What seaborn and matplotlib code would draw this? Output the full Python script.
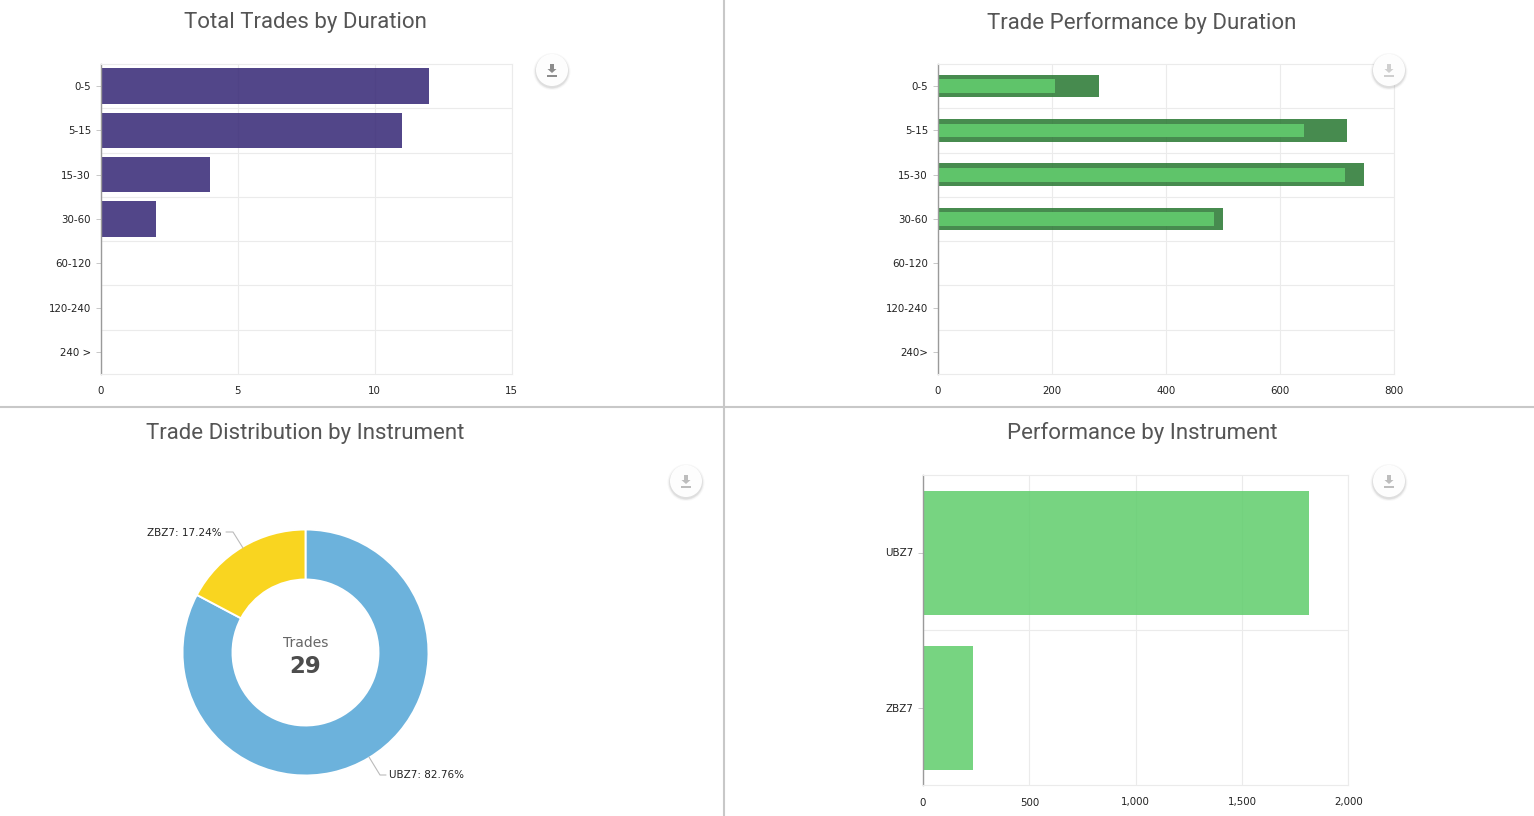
import pandas as pd
import matplotlib.pyplot as plt
from matplotlib.patches import Circle, Polygon, Rectangle
import seaborn as sns

# Data
durations = ['0-5', '5-15', '15-30', '30-60', '60-120', '120-240', '240 >']
durations2 = ['0-5', '5-15', '15-30', '30-60', '60-120', '120-240', '240>']
trades = [12, 11, 4, 2, 0, 0, 0]
perf_outer = [282, 718, 748, 500, 0, 0, 0]
perf_inner = [206, 642, 714, 485, 0, 0, 0]
instruments = ['UBZ7', 'ZBZ7']
trade_counts = [24, 5]
instrument_perf = [1815, 233]

W, H = 1534, 816
GRID = '#ebebeb'
TICK = '#c8c8c8'
TITLE = '#555555'

sns.set_theme(style='white')
plt.rcParams['font.family'] = ['DejaVu Sans']

fig = plt.figure(figsize=(W / 100, H / 100), dpi=100, facecolor='white')


def px_axes(left, top, right, bottom, **kw):
    return fig.add_axes([left / W, 1 - bottom / H, (right - left) / W, (bottom - top) / H], **kw)


def style_axes(ax, xticks, xlabels, xmax, n):
    ax.set_xlim(0, xmax)
    ax.set_ylim(n - 0.5, -0.5)
    ax.set_xlabel('')
    ax.set_ylabel('')
    ax.set_xticks(xticks)
    ax.set_xticklabels(xlabels)
    ax.set_yticks([i + 0.5 for i in range(n - 1)], minor=True)
    ax.set_axisbelow(True)
    ax.grid(True, axis='x', which='major', color=GRID, lw=0.8)
    ax.grid(True, axis='y', which='minor', color=GRID, lw=0.8)
    ax.grid(False, axis='y', which='major')
    ax.tick_params(axis='x', which='major', length=0, pad=9, labelsize=7.4, labelcolor='#222222')
    ax.tick_params(axis='y', which='major', left=True, length=3.6, width=0.7, color=TICK, pad=3.6,
                   labelsize=7.4, labelcolor='#222222')
    ax.tick_params(axis='y', which='minor', length=0)
    for side in ['top', 'right', 'bottom']:
        ax.spines[side].set_color(GRID)
        ax.spines[side].set_linewidth(0.8)
    ax.spines['left'].set_color('#9a9a9a')
    ax.spines['left'].set_linewidth(1.0)


# Total trades by duration
ax1 = px_axes(101, 64, 511.5, 374)
df1 = pd.DataFrame({'duration': durations, 'trades': trades})
sns.barplot(data=df1, y='duration', x='trades', orient='h', color='#342574', alpha=0.85,
            saturation=1, width=0.8, linewidth=0, ax=ax1)
style_axes(ax1, [0, 5, 10, 15], ['0', '5', '10', '15'], 15, len(durations))

# Trade performance by duration
ax2 = px_axes(938, 64, 1393.5, 374)
df2 = pd.DataFrame({'duration': durations2, 'outer': perf_outer, 'inner': perf_inner})
sns.barplot(data=df2, y='duration', x='outer', orient='h', color='#277730', alpha=0.85,
            saturation=1, width=0.51, linewidth=0, ax=ax2)
sns.barplot(data=df2, y='duration', x='inner', orient='h', color='#5FC46A',
            saturation=1, width=0.31, linewidth=0, ax=ax2)
style_axes(ax2, [0, 200, 400, 600, 800], ['0', '200', '400', '600', '800'], 800, len(durations2))

# Trade distribution by instrument
ax3 = px_axes(182.5, 529.5, 428.5, 775.5)
ax3.pie(trade_counts, colors=['#6CB2DC', '#F9D520'], startangle=90, counterclock=False, radius=1,
        wedgeprops={'width': 50 / 123, 'edgecolor': 'white', 'linewidth': 1.4})
ax3.set_xlim(-1, 1)
ax3.set_ylim(-1, 1)
ax3.text(0, 0.075, 'Trades', ha='center', va='center', fontsize=10, color='#666666')
ax3.text(0, -0.115, str(sum(trade_counts)), ha='center', va='center', fontsize=16.5,
         fontweight='bold', color='#4d4d4d')

# Performance by instrument
ax4 = px_axes(923, 475, 1348.5, 785)
df4 = pd.DataFrame({'instrument': instruments, 'perf': instrument_perf})
sns.barplot(data=df4, y='instrument', x='perf', orient='h', color='#5FCD6B', alpha=0.85,
            saturation=1, width=0.8, linewidth=0, ax=ax4)
style_axes(ax4, [0, 500, 1000, 1500, 2000], ['0', '500', '1,000', '1,500', '2,000'], 2000, len(instruments))

# Overlay in pixel coordinates: dividers, titles, pie labels, export buttons
ov = fig.add_axes([0, 0, 1, 1], zorder=10)
ov.set_xlim(0, W)
ov.set_ylim(H, 0)
ov.axis('off')
ov.patch.set_alpha(0)

ov.plot([724, 724], [0, H], color='#c8c8c8', lw=1.5)
ov.plot([0, W], [407, 407], color='#c8c8c8', lw=1.5)

for x, y, title in [(305.5, 22.5, 'Total Trades by Duration'),
                    (1142, 22.5, 'Trade Performance by Duration'),
                    (305.5, 433.5, 'Trade Distribution by Instrument'),
                    (1142, 433.5, 'Performance by Instrument')]:
    ov.text(x, y, title, ha='center', va='center', fontsize=16, family='Roboto', color=TITLE)

ov.plot([243, 233, 226], [548, 532, 532], color='#bbbbbb', lw=0.8)
ov.plot([369, 380, 386], [757, 775, 775], color='#bbbbbb', lw=0.8)
ov.text(222, 533.5, f'{instruments[1]}: {trade_counts[1] / sum(trade_counts) * 100:.2f}%',
        ha='right', va='center', fontsize=7.5, color='#222222')
ov.text(389, 775.5, f'{instruments[0]}: {trade_counts[0] / sum(trade_counts) * 100:.2f}%',
        ha='left', va='center', fontsize=7.5, color='#222222')

for cx, cy, icon in [(552, 70, '#8c8c8c'), (1389, 70, '#cfcfcf'), (686, 481, '#bdbdbd'), (1389, 481, '#bdbdbd')]:
    for r, a in [(18.5, 0.05), (17.5, 0.08), (16.8, 0.12)]:
        ov.add_patch(Circle((cx, cy + 1.5), r, fc='#777777', ec='none', alpha=a))
    ov.add_patch(Circle((cx, cy), 16, fc='white', ec='none', alpha=0.97))
    ov.add_patch(Polygon([(cx - 2, cy - 6), (cx + 2, cy - 6), (cx + 2, cy - 1), (cx + 4.5, cy - 1),
                          (cx, cy + 3), (cx - 4.5, cy - 1), (cx - 2, cy - 1)], fc=icon, ec='none'))
    ov.add_patch(Rectangle((cx - 5, cy + 5), 10, 1.5, fc=icon, ec='none'))

fig.savefig('out.png', dpi=100, facecolor='white')
